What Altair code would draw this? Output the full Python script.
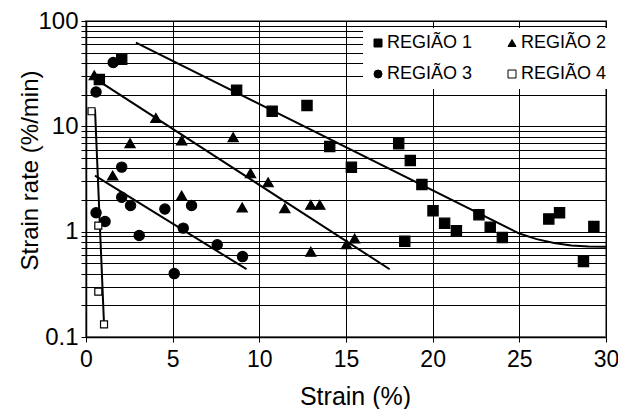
import altair as alt
import pandas as pd

# ---- data ----
regions = ["REGIÃO 1", "REGIÃO 2", "REGIÃO 3", "REGIÃO 4"]

r1_x = [0.77, 2.06, 8.69, 10.74, 12.75, 14.06, 15.31, 18.04, 18.71, 19.38, 20.02,
        20.69, 21.37, 18.39, 22.67, 23.32, 24.02, 26.70, 27.32, 29.3, 28.7]
r1_y = [27.8, 43.3, 22.0, 13.9, 15.8, 6.44, 4.09, 6.83, 4.74, 2.80, 1.58,
        1.20, 1.02, 0.81, 1.45, 1.10, 0.88, 1.32, 1.51, 1.12, 0.52]

r2_x = [0.48, 4.03, 2.54, 5.52, 8.49, 1.54, 5.52, 9.01, 9.49, 10.51, 11.47,
        12.97, 13.49, 12.97, 15.03, 15.50]
r2_y = [30.5, 12.0, 6.92, 7.34, 7.89, 3.41, 2.2, 1.70, 3.59, 2.94, 1.67,
        1.80, 1.80, 0.645, 0.76, 0.86]

r3_x = [0.58, 1.57, 2.06, 2.06, 2.57, 4.55, 6.09, 0.58, 1.10, 3.07, 5.61, 7.57, 9.03, 5.09]
r3_y = [21.2, 40.3, 4.1, 2.12, 1.77, 1.64, 1.77, 1.51, 1.25, 0.92, 1.08, 0.75, 0.58, 0.40]

r4_x = [0.32, 0.71, 0.71, 1.04]
r4_y = [13.9, 1.14, 0.27, 0.132]

# trend lines
l1_x = [2.88, 25.0, 26.0, 27.0, 28.0, 29.0, 30.0]
l1_y = [62.4, 0.96, 0.85, 0.78, 0.74, 0.725, 0.72]
l2_x = [0.81, 17.52]
l2_y = [26.4, 0.44]
l3_x = [0.52, 9.26]
l3_y = [3.41, 0.44]
l4_x = [0.52, 1.04]
l4_y = [14.5, 0.132]

x_ticks = [0, 5, 10, 15, 20, 25, 30]
y_ticks = [0.1, 0.2, 0.3, 0.4, 0.5, 0.6, 0.7, 0.8, 0.9,
           1, 2, 3, 4, 5, 6, 7, 8, 9,
           10, 20, 30, 40, 50, 60, 70, 80, 90, 100]
y_labels = [0.1, 1, 10, 100]

# ---- tables ----
rows = []
for reg, xs, ys in zip(regions, [r1_x, r2_x, r3_x, r4_x], [r1_y, r2_y, r3_y, r4_y]):
    for a, b in zip(xs, ys):
        rows.append({"x": a, "y": b, "region": reg})
pts = pd.DataFrame(rows)

lrows = []
for i, (xs, ys) in enumerate(zip([l1_x, l2_x, l3_x, l4_x], [l1_y, l2_y, l3_y, l4_y])):
    for k, (a, b) in enumerate(zip(xs, ys)):
        lrows.append({"x": a, "y": b, "line": f"L{i+1}", "ord": k})
lines = pd.DataFrame(lrows)

FONT = "Liberation Sans"

x_enc = alt.X("x:Q",
              scale=alt.Scale(domain=[0, 30], nice=False, zero=False),
              axis=alt.Axis(values=x_ticks, title="Strain (%)", grid=True,
                            gridColor="black", gridWidth=1, gridOpacity=1,
                            domainColor="black", domainWidth=1.5,
                            tickColor="black", tickSize=5, tickWidth=1,
                            labelFont=FONT, labelFontSize=23, labelColor="black",
                            labelPadding=6, labelFlush=False,
                            titleFont=FONT, titleFontSize=25, titleFontWeight="normal",
                            titleColor="black", titleX=269, titleY=67,
                            titleBaseline="alphabetic"))

label_cond = " || ".join(f"datum.value == {v}" for v in y_labels)
y_enc = alt.Y("y:Q",
              scale=alt.Scale(type="log", domain=[0.1, 100], nice=False),
              axis=alt.Axis(values=y_ticks, title="Strain rate (%/min)", grid=True,
                            gridColor="black", gridWidth=1, gridOpacity=1,
                            domainColor="black", domainWidth=1.5,
                            tickColor="black", tickSize=5, tickWidth=1,
                            labelExpr=f"({label_cond}) ? '' + datum.value : ''",
                            labelFont=FONT, labelFontSize=24, labelColor="black",
                            labelPadding=3, labelFlush=False, labelOverlap=False,
                            titleFont=FONT, titleFontSize=24, titleFontWeight="normal",
                            titleColor="black", titleX=-49, titleY=149,
                            titleBaseline="alphabetic"))

legend = alt.Legend(orient="none", legendX=277, legendY=7, columns=2, title=None,
                    direction="horizontal",
                    fillColor="white", padding=6, rowPadding=13, columnPadding=30,
                    labelFont=FONT, labelFontSize=18, labelColor="black", labelOffset=0,
                    symbolSize=64, symbolStrokeWidth=1)

line_layer = alt.Chart(lines).mark_line(color="black", strokeWidth=2).encode(
    x=x_enc, y=y_enc, detail="line:N", order="ord:Q")

pt_layer = alt.Chart(pts).mark_point(filled=True, strokeWidth=1.2,
                                     opacity=1, fillOpacity=1).encode(
    x=x_enc, y=y_enc,
    shape=alt.Shape("region:N",
                    scale=alt.Scale(domain=regions,
                                    range=["square", "triangle-up", "circle", "square"]),
                    legend=legend),
    fill=alt.Fill("region:N",
                  scale=alt.Scale(domain=regions,
                                  range=["black", "black", "black", "white"]),
                  legend=legend),
    stroke=alt.Stroke("region:N",
                      scale=alt.Scale(domain=regions,
                                      range=["black", "black", "black", "black"]),
                      legend=legend),
    size=alt.condition("datum.region == 'REGIÃO 4'", alt.value(49), alt.value(105)),
)

chart = alt.layer(line_layer, pt_layer).properties(
    width=520, height=316,
    autosize=alt.AutoSizeParams(type="none"),
    padding={"left": 86, "top": 21, "right": 12, "bottom": 72},
    background="white",
).configure_view(stroke="#808080", strokeWidth=2)

chart.save("out.html", embed_options={"renderer": "svg", "actions": False})
